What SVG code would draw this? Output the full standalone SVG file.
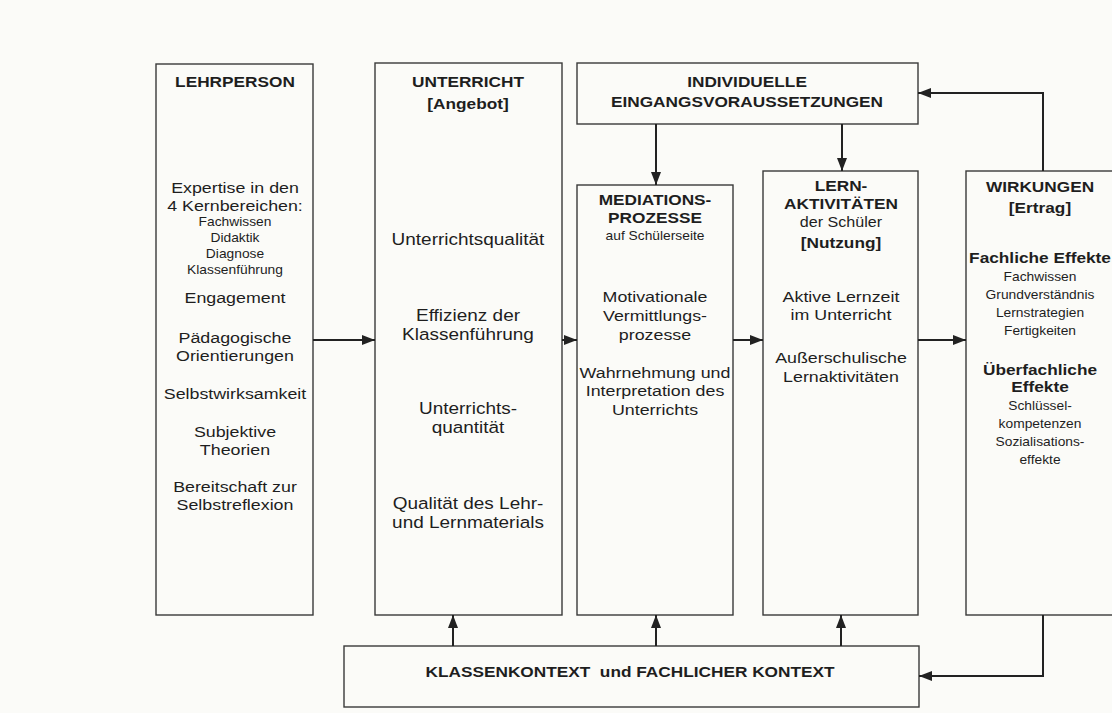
<svg xmlns="http://www.w3.org/2000/svg" width="1112" height="713" viewBox="0 0 1112 713">
<style>
  .box { fill: #fbfbf8; stroke: #3a3a3a; stroke-width: 1.4; }
  text { font-family: "Liberation Sans", Arial, sans-serif; fill: #1e1e1e; text-anchor: middle; }
  .t { font-size: 15.5px; }
  .u { font-size: 16.5px; }
  .s { font-size: 12px; }
  .m { font-size: 14px; }
  .b { font-size: 15px; font-weight: bold; }
  .conn { fill: none; stroke: #222; stroke-width: 2; marker-end: url(#ah); }
</style>
<defs>
  <marker id="ah" markerUnits="userSpaceOnUse" markerWidth="14" markerHeight="11" refX="13" refY="5" orient="auto">
    <path d="M0,0 L13,5 L0,10 z" fill="#222"/>
  </marker>
</defs>
<rect x="0" y="0" width="1112" height="713" fill="#fbfbf8"/>

<g id="lehrperson">
  <rect class="box" x="156" y="64" width="157" height="551"/>
  <g transform="translate(235,0) scale(1.15,1)">
    <text class="b" x="0" y="87">LEHRPERSON</text>
    <text class="t" x="0" y="193">Expertise in den</text>
    <text class="t" x="0" y="211">4 Kernbereichen:</text>
    <text class="s" x="0" y="226">Fachwissen</text>
    <text class="s" x="0" y="242">Didaktik</text>
    <text class="s" x="0" y="258">Diagnose</text>
    <text class="s" x="0" y="274">Klassenführung</text>
    <text class="t" x="0" y="303">Engagement</text>
    <text class="t" x="0" y="343">Pädagogische</text>
    <text class="t" x="0" y="361">Orientierungen</text>
    <text class="t" x="0" y="399">Selbstwirksamkeit</text>
    <text class="t" x="0" y="437">Subjektive</text>
    <text class="t" x="0" y="455">Theorien</text>
    <text class="t" x="0" y="492">Bereitschaft zur</text>
    <text class="t" x="0" y="510">Selbstreflexion</text>
  </g>
</g>

<g id="unterricht">
  <rect class="box" x="375" y="63" width="187" height="552"/>
  <g transform="translate(468,0) scale(1.15,1)">
    <text class="b" x="0" y="87">UNTERRICHT</text>
    <text class="b" x="0" y="109">[Angebot]</text>
    <text class="u" x="0" y="245">Unterrichtsqualität</text>
    <text class="u" x="0" y="321">Effizienz der</text>
    <text class="u" x="0" y="340">Klassenführung</text>
    <text class="u" x="0" y="414">Unterrichts-</text>
    <text class="u" x="0" y="433">quantität</text>
    <text class="u" x="0" y="509">Qualität des Lehr-</text>
    <text class="u" x="0" y="528">und Lernmaterials</text>
  </g>
</g>

<g id="eingangsvoraussetzungen">
  <rect class="box" x="577" y="63" width="341" height="61"/>
  <g transform="translate(747,0) scale(1.15,1)">
    <text class="b" x="0" y="87">INDIVIDUELLE</text>
    <text class="b" x="0" y="107">EINGANGSVORAUSSETZUNGEN</text>
  </g>
</g>

<g id="mediationsprozesse">
  <rect class="box" x="577" y="185" width="156" height="430"/>
  <g transform="translate(655,0) scale(1.15,1)">
    <text class="b" x="0" y="205">MEDIATIONS-</text>
    <text class="b" x="0" y="223">PROZESSE</text>
    <text class="s" x="0" y="240">auf Schülerseite</text>
    <text class="t" x="0" y="302">Motivationale</text>
    <text class="t" x="0" y="321">Vermittlungs-</text>
    <text class="t" x="0" y="340">prozesse</text>
    <text class="t" x="0" y="378">Wahrnehmung und</text>
    <text class="t" x="0" y="396">Interpretation des</text>
    <text class="t" x="0" y="415">Unterrichts</text>
  </g>
</g>

<g id="lernaktivitaeten">
  <rect class="box" x="763" y="171" width="155" height="444"/>
  <g transform="translate(841,0) scale(1.15,1)">
    <text class="b" x="0" y="191">LERN-</text>
    <text class="b" x="0" y="209">AKTIVITÄTEN</text>
    <text class="m" x="0" y="227">der Schüler</text>
    <text class="b" x="0" y="248">[Nutzung]</text>
    <text class="t" x="0" y="302">Aktive Lernzeit</text>
    <text class="t" x="0" y="320">im Unterricht</text>
    <text class="t" x="0" y="363">Außerschulische</text>
    <text class="t" x="0" y="382">Lernaktivitäten</text>
  </g>
</g>

<g id="wirkungen">
  <rect class="box" x="966" y="171" width="160" height="444"/>
  <g transform="translate(1040,0) scale(1.15,1)">
    <text class="b" x="0" y="192">WIRKUNGEN</text>
    <text class="b" x="0" y="213">[Ertrag]</text>
    <text class="b" x="0" y="263">Fachliche Effekte</text>
    <text class="s" x="0" y="281">Fachwissen</text>
    <text class="s" x="0" y="299">Grundverständnis</text>
    <text class="s" x="0" y="317">Lernstrategien</text>
    <text class="s" x="0" y="335">Fertigkeiten</text>
    <text class="b" x="0" y="375">Überfachliche</text>
    <text class="b" x="0" y="392">Effekte</text>
    <text class="s" x="0" y="410">Schlüssel-</text>
    <text class="s" x="0" y="428">kompetenzen</text>
    <text class="s" x="0" y="446">Sozialisations-</text>
    <text class="s" x="0" y="464">effekte</text>
  </g>
</g>

<g id="kontext">
  <rect class="box" x="344" y="646" width="575" height="61"/>
  <g transform="translate(630,0) scale(1.15,1)">
    <text class="b" x="0" y="677" xml:space="preserve">KLASSENKONTEXT  und FACHLICHER KONTEXT</text>
  </g>
</g>

<g id="connectors">
  <path class="conn" d="M313,340 H375"/>
  <path class="conn" d="M562,340 H577"/>
  <path class="conn" d="M733,340 H763"/>
  <path class="conn" d="M918,340 H966"/>
  <path class="conn" d="M656,124 V185"/>
  <path class="conn" d="M842,124 V171"/>
  <path class="conn" d="M453,646 V615"/>
  <path class="conn" d="M656,646 V615"/>
  <path class="conn" d="M841,646 V615"/>
  <path class="conn" d="M1043,615 V676 H919"/>
  <path class="conn" d="M1043,171 V93 H918"/>
</g>
</svg>
